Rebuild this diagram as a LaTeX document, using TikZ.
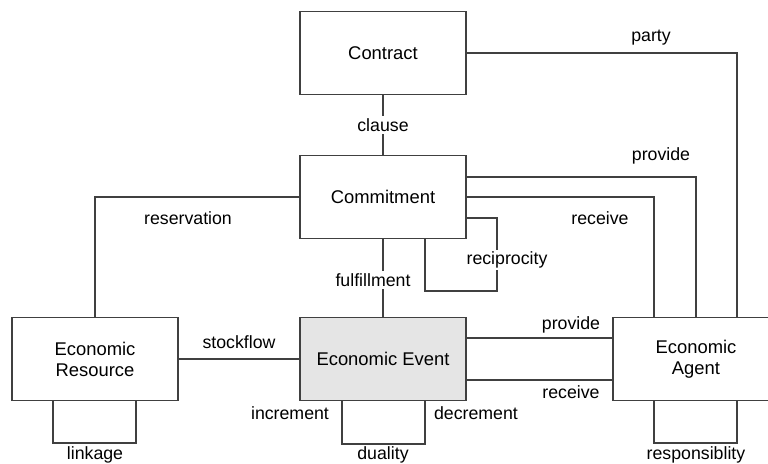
\documentclass[tikz,border=0pt]{standalone}
\usepackage{fontspec}
\setmainfont{Liberation Sans}
\begin{document}
\begin{tikzpicture}[x=0.75pt,y=-0.75pt,
  entity/.style={draw=black!75,line width=0.8pt,fill=white,minimum width=124.5pt,minimum height=62.25pt,align=center,font=\fontsize{13.8}{15.75}\selectfont},
  rel/.style={font=\fontsize{13.3}{15}\selectfont,inner sep=1.5pt},
  link/.style={draw=black!75,line width=0.8pt}]
\useasboundingbox (0,0) rectangle (768,464);
% entities
\node[entity] (contract) at (383,53) {Contract};
\node[entity] (commit) at (383,197) {Commitment};
\node[entity] (resource) at (95,359) {Economic\\Resource};
\node[entity,fill=black!10] (event) at (383,359) {Economic Event};
\node[entity] (agent) at (696,359) {Economic\\Agent};
\coordinate (recip) at (497,291);
\coordinate (linkc) at (136,443);
\coordinate (dualc) at (425,444);
\coordinate (respc) at (737,443);
% relationships
\draw[link] (contract) -- (commit);
\draw[link] (commit) -- (event);
\draw[link] (resource) -- (event);
\draw[link] (contract.east) -| ([xshift=30.75pt]agent.north);
\draw[link] ([yshift=15pt]commit.east) -| (agent.north);
\draw[link] (commit.east) -| ([xshift=-31.5pt]agent.north);
\draw[link] (commit.west) -| (resource.north);
\draw[link] ([yshift=-15.75pt]commit.east) -| (recip) -| ([xshift=31.5pt]commit.south);
\draw[link] ([yshift=15.75pt]event.east) -- ([yshift=15.75pt]event.east -| agent.west);
\draw[link] ([yshift=-15.75pt]event.east) -- ([yshift=-15.75pt]event.east -| agent.west);
\draw[link] ([xshift=-31.5pt]resource.south) |- (linkc) -- (linkc |- resource.south);
\draw[link] ([xshift=-30.75pt]event.south) |- (dualc) -- (dualc |- event.south);
\draw[link] ([xshift=-31.5pt]agent.south) |- (respc) -- (respc |- agent.south);
% labels
\node[rel] (party) at (651,38) {party};
\node[rel,fill=white] (clause) at (383,125) {clause};
\node[rel] (cprovide) at (661,156) {provide};
\node[rel] (creceive) at (600,218) {receive};
\node[rel] (reserv) at (188,218) {reservation};
\node[rel,fill=white] (recipl) at (507,260) {reciprocity};
\node[rel,fill=white] (fulfil) at (373,280) {fulfillment};
\node[rel] (stock) at (239,342) {stockflow};
\node[rel] (eprovide) at (571,325) {provide};
\node[rel] (ereceive) at (571,392) {receive};
\node[rel] (incr) at (290,413) {increment};
\node[rel] (decr) at (476,413) {decrement};
\node[rel] (linkl) at (95,455) {linkage};
\node[rel] (dual) at (383,455) {duality};
\node[rel] (resp) at (696,455) {responsiblity};
\end{tikzpicture}
\end{document}
